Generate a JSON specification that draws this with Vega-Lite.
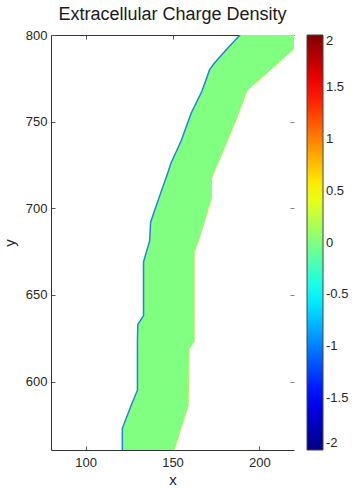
{
  "$schema": "https://vega.github.io/schema/vega-lite/v6.json",
  "width": 243,
  "height": 415,
  "autosize": {"type": "none"},
  "padding": {"left": 51, "top": 35, "right": 61, "bottom": 38},
  "background": "white",
  "config": {
    "font": "Liberation Sans",
    "view": {"stroke": null},
    "axis": {"labelFont": "Liberation Sans", "titleFont": "Liberation Sans", "labelColor": "#262626", "titleColor": "#262626", "domainColor": "#333333", "tickColor": "#555555", "grid": false}
  },
  "title": {"text": "Extracellular Charge Density", "fontSize": 18, "fontWeight": "normal", "color": "#1a1a1a", "font": "Liberation Sans", "offset": 5},
  "data": {"values": [
    {"y": 560, "xl": 121.1, "xr": 150.8, "v": 0},
    {"y": 573, "xl": 121.1, "xr": 154.9, "v": 0},
    {"y": 586, "xl": 126.1, "xr": 159.0, "v": 0},
    {"y": 595, "xl": 129.8, "xr": 159.2, "v": 0},
    {"y": 619, "xl": 129.8, "xr": 159.6, "v": 0},
    {"y": 623, "xl": 129.8, "xr": 162.5, "v": 0},
    {"y": 633, "xl": 130.0, "xr": 162.5, "v": 0},
    {"y": 638, "xl": 133.3, "xr": 162.5, "v": 0},
    {"y": 669, "xl": 133.3, "xr": 162.5, "v": 0},
    {"y": 675, "xl": 135.0, "xr": 162.5, "v": 0},
    {"y": 681, "xl": 136.8, "xr": 164.9, "v": 0},
    {"y": 692, "xl": 137.4, "xr": 168.3, "v": 0},
    {"y": 706, "xl": 142.2, "xr": 172.5, "v": 0},
    {"y": 717, "xl": 146.1, "xr": 172.5, "v": 0},
    {"y": 722, "xl": 147.8, "xr": 174.3, "v": 0},
    {"y": 726, "xl": 149.1, "xr": 176.2, "v": 0},
    {"y": 739, "xl": 155.0, "xr": 181.6, "v": 0},
    {"y": 752, "xl": 159.7, "xr": 187.0, "v": 0},
    {"y": 755, "xl": 160.8, "xr": 188.1, "v": 0},
    {"y": 767, "xl": 166.7, "xr": 192.6, "v": 0},
    {"y": 768, "xl": 167.1, "xr": 193.0, "v": 0},
    {"y": 780, "xl": 171.4, "xr": 206.5, "v": 0},
    {"y": 784, "xl": 174.3, "xr": 211.0, "v": 0},
    {"y": 792, "xl": 181.5, "xr": 220.0, "v": 0},
    {"y": 800, "xl": 188.9, "xr": 220.0, "v": 0}
  ]},
  "layer": [
    {
      "mark": {"type": "area", "orient": "horizontal", "clip": true, "opacity": 1},
      "encoding": {
        "y": {"field": "y", "type": "quantitative", "scale": {"domain": [560.5, 800], "nice": false, "zero": false},
              "axis": {"values": [600, 650, 700, 750, 800], "tickSize": -4, "labelFontSize": 13, "labelPadding": 8, "title": "y", "titleFontSize": 15, "titleFontWeight": "normal", "titlePadding": 8}},
        "x": {"field": "xl", "type": "quantitative", "scale": {"domain": [80, 220], "nice": false, "zero": false},
              "axis": {"values": [100, 150, 200], "tickSize": -4, "labelFontSize": 13, "labelPadding": 10, "title": "x", "titleFontSize": 15, "titleFontWeight": "normal", "titlePadding": 3}},
        "x2": {"field": "xr"},
        "color": {"field": "v", "type": "quantitative",
                  "scale": {"domain": [-2, -1.5, -0.5, 0.5, 1.5, 2], "range": ["#000080", "#0000ff", "#00ffff", "#ffff00", "#ff0000", "#800000"], "interpolate": "rgb"},
                  "legend": {"orient": "none", "legendX": 256, "legendY": 0, "direction": "vertical", "title": null,
                             "gradientLength": 415, "gradientThickness": 16, "gradientStrokeColor": "#444444", "gradientStrokeWidth": 1,
                             "values": [-2, -1.5, -1, -0.5, 0, 0.5, 1, 1.5, 2], "labelExpr": "'' + datum.value",
                             "labelFontSize": 13, "labelColor": "#262626", "labelFont": "Liberation Sans", "labelOffset": 3, "labelOverlap": false, "labelBaseline": "middle"}}
      }
    },
    {
      "mark": {"type": "line", "clip": true, "stroke": "#1f86d6", "strokeWidth": 1.5},
      "encoding": {
        "y": {"field": "y", "type": "quantitative", "scale": {"domain": [560.5, 800], "nice": false, "zero": false},
              "axis": {"orient": "right", "values": [600, 650, 700, 750, 800], "tickSize": -4, "labels": false, "domain": false, "title": null, "tickColor": "#888888"}},
        "x": {"field": "xl", "type": "quantitative", "scale": {"domain": [80, 220], "nice": false, "zero": false},
              "axis": {"orient": "top", "values": [100, 150, 200], "tickSize": -4, "labels": false, "title": null}},
        "order": {"field": "y", "type": "quantitative"}
      }
    },
    {
      "mark": {"type": "line", "clip": true, "stroke": "#b8f060", "strokeWidth": 1},
      "encoding": {
        "y": {"field": "y", "type": "quantitative", "scale": {"domain": [560.5, 800], "nice": false, "zero": false}, "axis": null},
        "x": {"field": "xr", "type": "quantitative", "scale": {"domain": [80, 220], "nice": false, "zero": false}, "axis": null},
        "order": {"field": "y", "type": "quantitative"}
      }
    }
  ],
  "resolve": {"axis": {"x": "independent", "y": "independent"}}
}
